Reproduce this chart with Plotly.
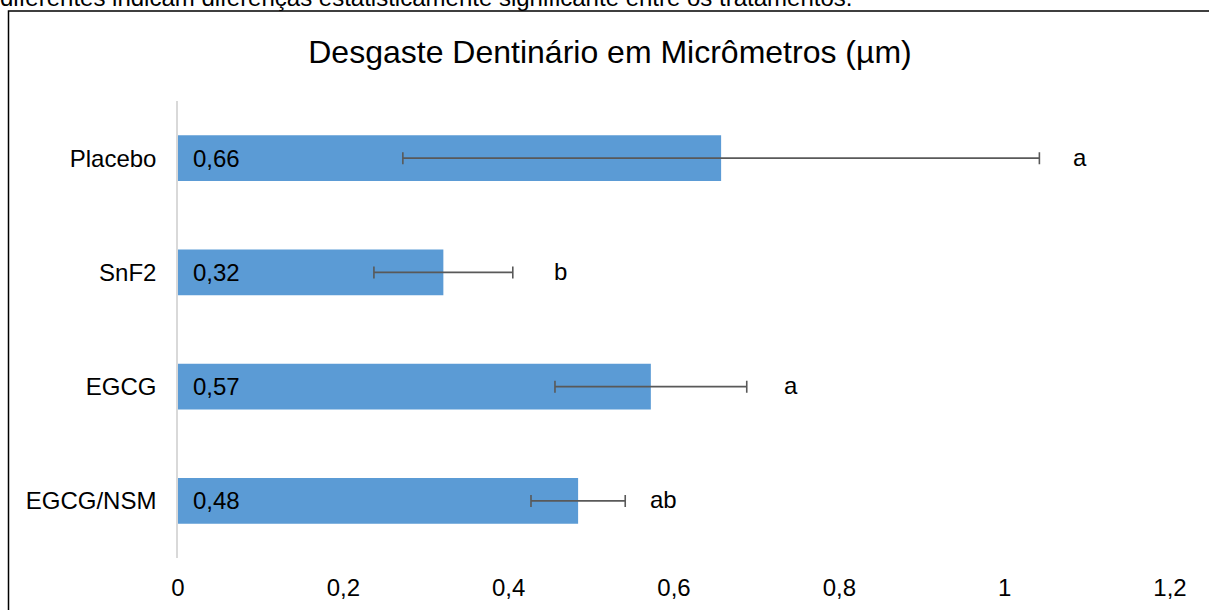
import plotly.graph_objects as go

categories = ["Placebo", "SnF2", "EGCG", "EGCG/NSM"]
means = [0.657, 0.321, 0.572, 0.484]
errors = [0.385, 0.084, 0.116, 0.057]
letters = ["a", "b", "a", "ab"]
letter_x = [1.08, 0.453, 0.731, 0.569]
x_ticks = [0, 0.2, 0.4, 0.6, 0.8, 1.0, 1.2]
x_tick_labels = ["0", "0,2", "0,4", "0,6", "0,8", "1", "1,2"]

FONT = "Liberation Sans, Arial, sans-serif"

W, H = 1209, 610
L, T, B = 178, 101, 52
PW, PH = 992, 457

fig = go.Figure()
fig.add_trace(go.Bar(
    y=categories, x=means, orientation="h",
    marker=dict(color="#5b9bd5", line=dict(width=0)),
    width=0.4,
    error_x=dict(type="data", array=errors, visible=True,
                 color="#595959", thickness=1.6, width=6),
    hoverinfo="skip",
))

annotations = []
for c, m in zip(categories, means):
    annotations.append(dict(
        x=0, y=c, xref="x", yref="y", text=f"{m:.2f}".replace(".", ","),
        showarrow=False, xanchor="left", yanchor="middle", xshift=13,
        font=dict(family=FONT, size=24, color="#000000"),
    ))
for c, lx, t in zip(categories, letter_x, letters):
    annotations.append(dict(
        x=lx, y=c, xref="x", yref="y", text=t,
        showarrow=False, xanchor="left", yanchor="middle", yshift=1,
        font=dict(family=FONT, size=24, color="#000000"),
    ))
annotations.append(dict(
    x=-0.181, y=1.193, xref="paper", yref="paper",
    text="diferentes indicam diferenças estatisticamente significante entre os tratamentos.",
    showarrow=False, xanchor="left", yanchor="bottom",
    font=dict(family=FONT, size=24, color="#000000"),
))

fig.update_layout(
    width=W, height=H,
    margin=dict(l=L, r=W - L - PW, t=T, b=B, autoexpand=False),
    paper_bgcolor="white", plot_bgcolor="white",
    showlegend=False,
    modebar=dict(bgcolor="rgba(0,0,0,0)", color="rgba(0,0,0,0)",
                 activecolor="rgba(0,0,0,0)"),
    title=dict(text="Desgaste Dentinário em Micrômetros (µm)",
               x=610 / W, xanchor="center", xref="container",
               y=1 - 52 / H, yanchor="middle", yref="container",
               font=dict(family=FONT, size=32, color="#000000")),
    annotations=annotations,
    shapes=[dict(type="rect", xref="paper", yref="paper",
                 x0=(8.5 - L) / PW, x1=(1230 - L) / PW,
                 y0=(558 - 640) / PH, y1=(558 - 11) / PH,
                 line=dict(color="#000000", width=1.5),
                 fillcolor="rgba(0,0,0,0)", layer="above")],
    xaxis=dict(range=[0, 1.2], tickvals=x_ticks, ticktext=x_tick_labels,
               showgrid=False, zeroline=False, showline=False,
               ticks="", ticklabelstandoff=13,
               tickfont=dict(family=FONT, size=24, color="#000000")),
    yaxis=dict(autorange="reversed", showgrid=False, zeroline=False,
               showline=True, linecolor="#d9d9d9", linewidth=1.5,
               ticks="", ticklabelstandoff=15,
               tickfont=dict(family=FONT, size=24, color="#000000")),
    bargap=0.6,
)

fig.write_html("out.html", config={"displayModeBar": False},
               post_script="document.body.style.margin='0px';")
